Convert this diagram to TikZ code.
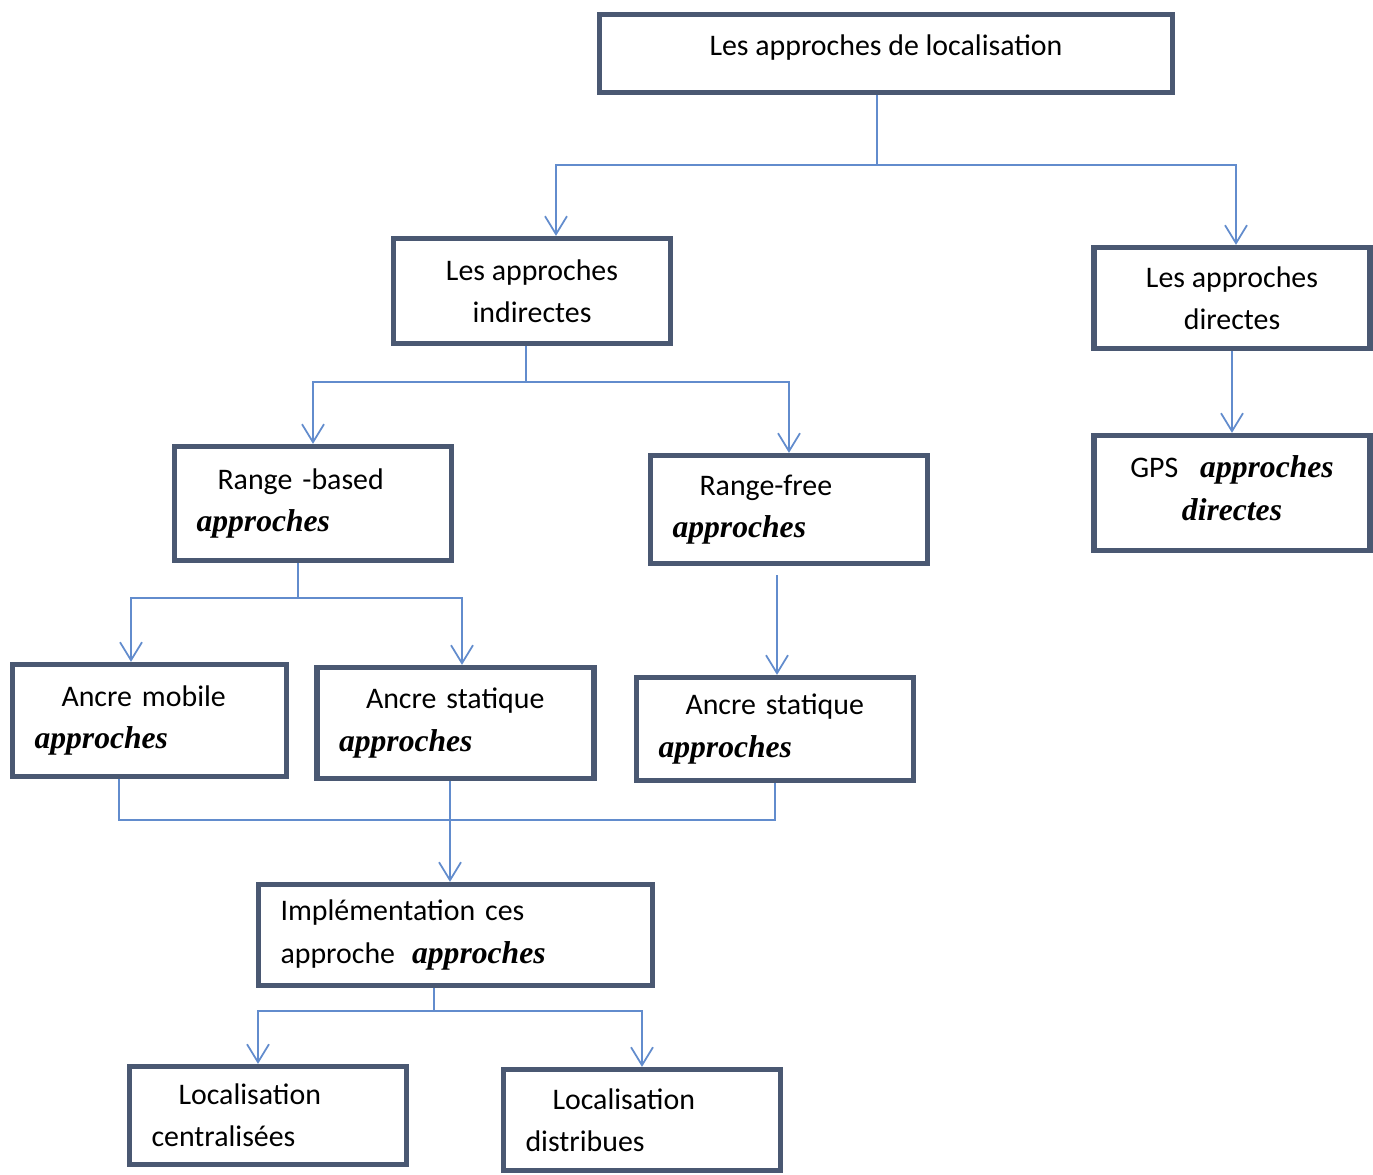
\documentclass[tikz,border=0pt]{standalone}
\usepackage{fontspec}
\setmainfont{Carlito}
\newfontfamily\apfont{Liberation Serif}
\usepackage{xcolor}
\usetikzlibrary{arrows.meta,calc,positioning}
\definecolor{bordure}{RGB}{74,88,114}
\definecolor{liaison}{RGB}{98,140,205}
\newcommand{\apr}[1]{{\apfont\bfseries\itshape\fontsize{18}{24}\selectfont #1}}
\tikzset{%
	cadre/.style  = {draw=bordure, line width=3pt, rectangle, fill=white, align=center, font=\fontsize{17}{24}\selectfont},
	cadreg/.style = {cadre, align=left, inner xsep=0.44cm, text width=4.66cm},
	lien/.style   = {draw=liaison, line width=1pt},
	fleche/.style = {lien, -{Straight Barb[length=0.36cm,width=0.44cm]}},
}

\begin{document}
\begin{tikzpicture}[x=0.02cm,y=-0.02cm]
	\useasboundingbox (0,0) rectangle (1373,1174);
	% les cadres
	\node[cadre, minimum width=11.46cm, minimum height=1.56cm, text depth=0.32cm] (loc) at (886,53.5) {Les approches de localisation};
	\node[cadre, minimum width=5.54cm, minimum height=2.1cm] (ind) at (532,291) {Les approches\\indirectes};
	\node[cadre, minimum width=5.52cm, minimum height=2.02cm] (dir) at (1232,298) {Les approches\\directes};
	\node[cadreg, minimum height=2.28cm] (rb) at (313,503.5) {\hspace*{0.42cm}Range -based\\\apr{approches}};
	\node[cadreg, minimum height=2.16cm] (rf) at (789,509.5) {\hspace*{0.54cm}Range-free\\\apr{approches}};
	\node[cadre, minimum width=5.52cm, minimum height=2.3cm, text depth=0.2cm] (gps) at (1232,493) {GPS\hspace{0.44cm}\apr{approches}\\\apr{directes}};
	\node[cadreg, text width=4.6cm, minimum height=2.24cm] (am) at (149.5,720.5) {\hspace*{0.54cm}Ancre mobile\\\apr{approches}};
	\node[cadreg, minimum height=2.22cm] (as1) at (455.5,723) {\hspace*{0.54cm}Ancre statique\\\apr{approches}};
	\node[cadreg, minimum height=2.06cm] (as2) at (775,729) {\hspace*{0.54cm}Ancre statique\\\apr{approches}};
	\node[cadreg, text width=7cm, minimum height=2.02cm] (impl) at (455.5,935) {Implémentation ces\\approche\hspace{0.34cm}\apr{approches}};
	\node[cadreg, minimum height=1.96cm] (lc) at (268,1115.5) {\hspace*{0.54cm}Localisation\\centralisées};
	\node[cadreg, minimum height=2.02cm] (ld) at (642,1120) {\hspace*{0.54cm}Localisation\\distribues};
	% les liaisons
	\coordinate (j1) at (877,165);
	\coordinate (j2) at (526,382);
	\coordinate (j3) at (298,598);
	\coordinate (j4) at (450,820);
	\coordinate (j5) at (434,1011);
	\draw[lien] (loc.south -| j1) -- (j1);
	\draw[fleche] (j1) -| ([xshift=0.48cm]ind.north);
	\draw[fleche] (j1) -| ([xshift=0.08cm]dir.north);
	\draw[lien] (ind.south -| j2) -- (j2);
	\draw[fleche] (j2) -| (rb.north);
	\draw[fleche] (j2) -| (rf.north);
	\draw[fleche] (dir.south) -- (gps.north);
	\draw[lien] (rb.south -| j3) -- (j3);
	\draw[fleche] (j3) -| ([xshift=-0.37cm]am.north);
	\draw[fleche] (j3) -| ([xshift=0.13cm]as1.north);
	\draw[fleche] ([xshift=-0.24cm,yshift=-0.18cm]rf.south) -- ([xshift=0.04cm]as2.north);
	\draw[lien] ([xshift=-0.61cm]am.south) |- (j4) -| (as2.south);
	\draw[fleche] (as1.south -| j4) -- (impl.north -| j4);
	\draw[lien] (impl.south -| j5) -- (j5);
	\draw[fleche] (j5) -| ([xshift=-0.2cm]lc.north);
	\draw[fleche] (j5) -| (ld.north);
\end{tikzpicture}
\end{document}
